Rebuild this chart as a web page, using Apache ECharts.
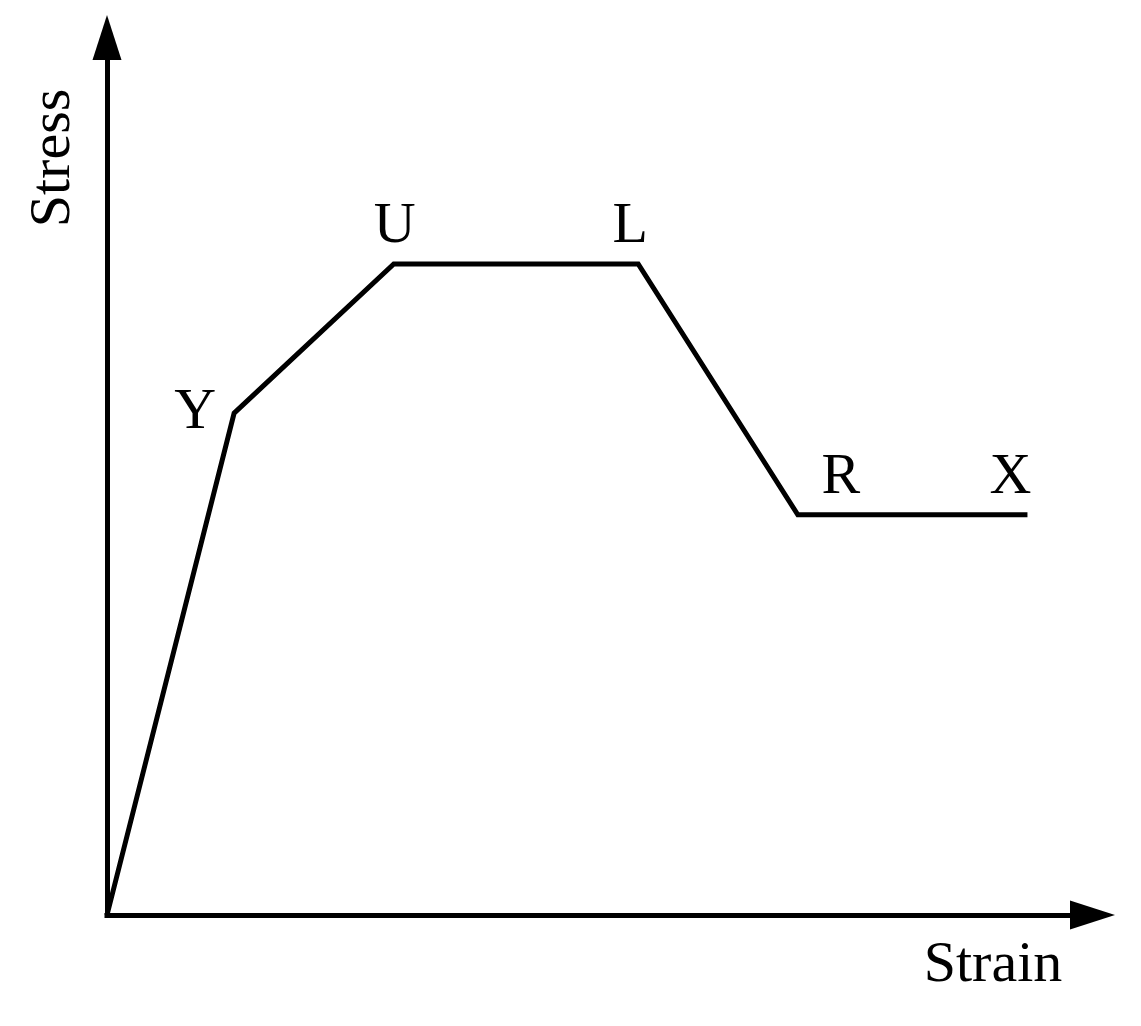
<!DOCTYPE html>
<html>
<head>
<meta charset="utf-8">
<script src="https://cdn.jsdelivr.net/npm/echarts@6/dist/echarts.min.js"></script>
<style>
  html, body { margin: 0; padding: 0; background: #fff; }
  #chart { width: 1141px; height: 1026px; }
</style>
</head>
<body>
<div id="chart"></div>
<script>
// points of the curve, in axis units (0..100 on both axes)
const pointNames = ['', 'Y', 'U', 'L', 'R', 'X']
const strainValues = [0, 12.9, 29.1, 53.9, 70.1, 93.4]
const stressValues = [0, 57.2, 74.2, 74.2, 45.6, 45.6]

const axisNames = { x: 'Strain', y: 'Stress' }

const font = '"Liberation Serif", "Times New Roman", "DejaVu Serif", serif'
// label placement per point: [position, offset]
const labelPlace = [
  null,
  ['left', [0, 0]],
  ['top', [1, 0]],
  ['top', [-8, 0]],
  ['top', [43, 0]],
  ['top', [-17, 0]]
]

let data = strainValues.map((x, i) => {
  let item = { value: [x, stressValues[i]], name: pointNames[i] }
  let place = labelPlace[i]
  if (place) {
    item.label = { show: true, position: place[0], offset: place[1], distance: place[0] === 'left' ? 18 : 8 }
  }
  return item
})

const chart = echarts.init(document.getElementById('chart'), null, { renderer: 'canvas' })

const axisCommon = {
  type: 'value',
  min: 0,
  max: 100,
  axisTick: { show: false },
  axisLabel: { show: false },
  splitLine: { show: false },
  axisLine: {
    show: true,
    symbol: ['none', 'triangle'],
    symbolSize: [29, 45],
    lineStyle: { color: '#000', width: 5, cap: 'square' }
  }
}

const nameFont = '58px ' + font

chart.setOption({
  backgroundColor: '#fff',
  animation: false,
  grid: { left: 107, right: 48.5, top: 37.5, bottom: 111 },
  xAxis: axisCommon,
  yAxis: axisCommon,
  graphic: [
    {
      type: 'text',
      x: 993, y: 966,
      style: { text: axisNames.x, font: nameFont, fill: '#000', align: 'center', verticalAlign: 'middle' }
    },
    {
      type: 'text',
      x: 54, y: 158,
      rotation: Math.PI / 2,
      style: { text: axisNames.y, font: nameFont, fill: '#000', align: 'center', verticalAlign: 'middle' }
    }
  ],
  series: [{
    type: 'line',
    data: data,
    symbol: 'circle',
    symbolSize: 0,
    showSymbol: true,
    lineStyle: { color: '#000', width: 5, join: 'miter' },
    itemStyle: { color: '#000' },
    label: {
      show: false,
      formatter: p => p.name,
      fontFamily: font,
      fontSize: 58,
      color: '#000'
    },
    emphasis: { disabled: true }
  }]
})
</script>
</body>
</html>
